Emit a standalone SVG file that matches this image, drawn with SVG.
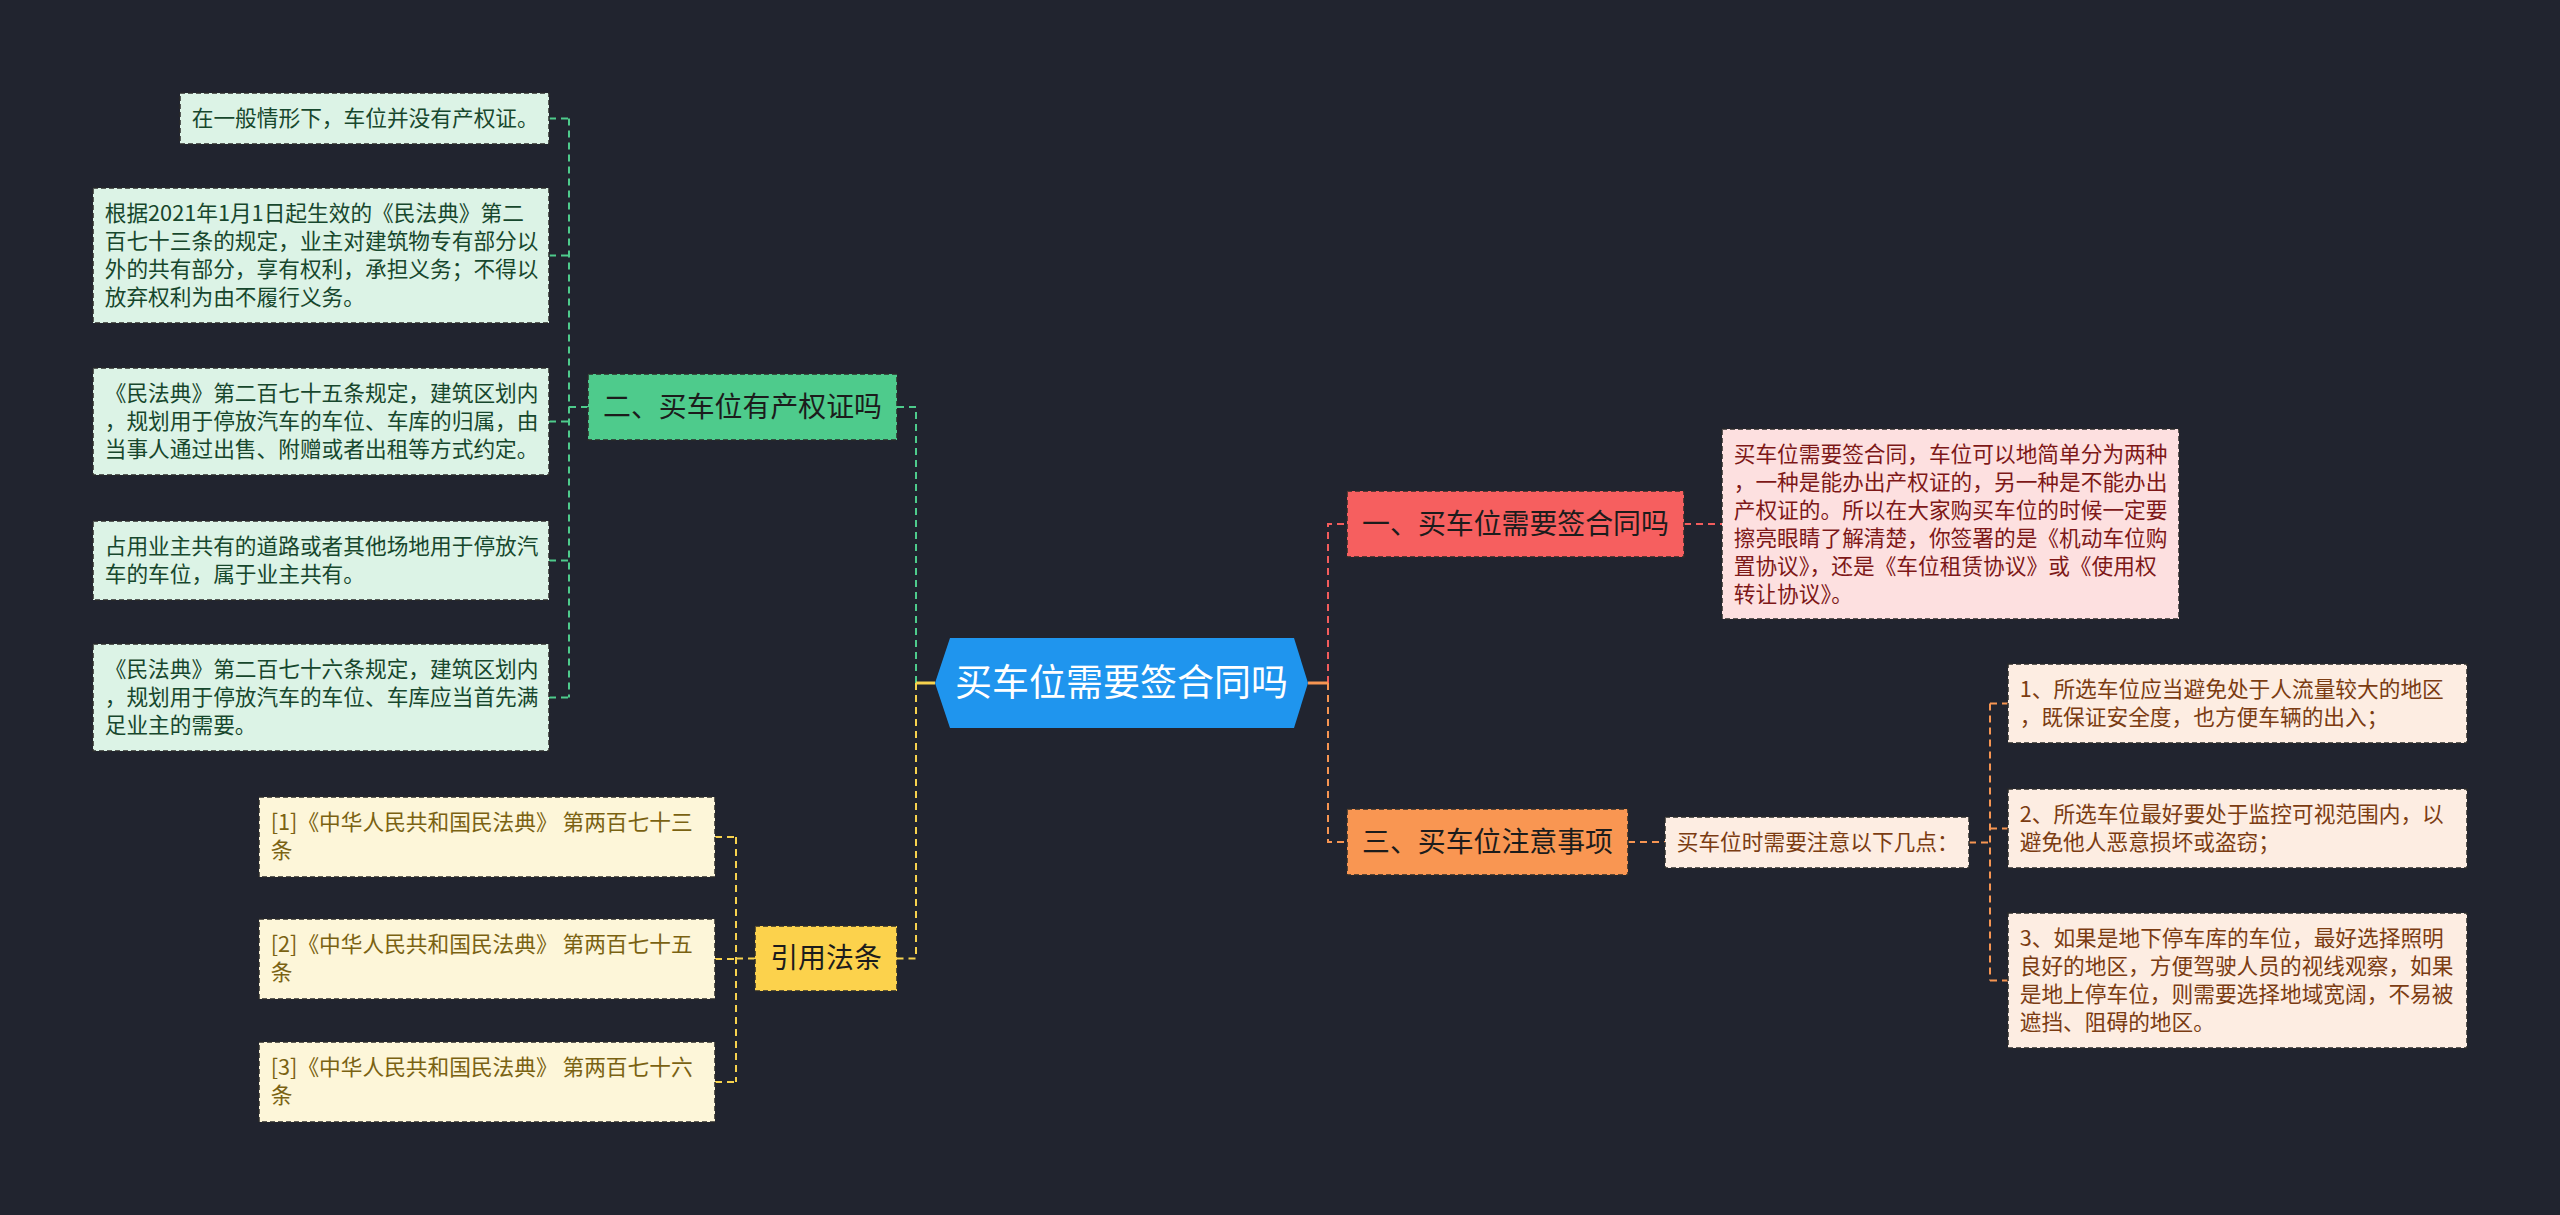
<svg xmlns="http://www.w3.org/2000/svg" width="2560" height="1215" viewBox="0 0 2560 1215">
<style>
text{font-family:"Noto Sans CJK SC","Noto Sans",sans-serif;}
.d{font-size:21.7px;}
.m{font-size:27.9px;fill:#1c1c1c;text-anchor:middle;}
.c{font-size:37px;fill:#ffffff;text-anchor:middle;}
.bx{stroke:#2a2a2a;stroke-width:1.5;stroke-dasharray:5 3;}
.gf{fill:#dcf3e6;} .gt{fill:#17472d;}
.yf{fill:#fdf6d9;} .yt{fill:#7a6212;}
.rf{fill:#fde0e0;} .rt{fill:#7d1818;}
.of{fill:#fdede2;} .ot{fill:#7b3c12;}
.ln{fill:none;stroke-width:2;stroke-dasharray:7 5;}
.sg{stroke:#4ecb8c;} .sy{stroke:#f7d24e;} .sr{stroke:#f25c5c;} .so{stroke:#f79552;}
</style>
<rect width="2560" height="1215" fill="#21242f"/>
<g id="connectors">
<path class="ln sg" d="M897 407 H916 V683"/>
<path class="ln sg" d="M588 407 H569"/>
<path class="ln sg" d="M569 118.5 V697.5 M549 118.5 H569 M549 255.5 H569 M549 421.5 H569 M549 560.5 H569 M549 697.5 H569"/>
<path class="ln sy" d="M916 683 V958.5 H897"/>
<path class="ln sy" d="M755 958.5 H736 M736 837 V1082 M715 837 H736 M715 959 H736 M715 1082 H736"/>
<path fill="none" stroke="#f7d24e" stroke-width="3" d="M916 683 H935"/>
<path class="ln sr" d="M1328 683 V524 H1347"/>
<path class="ln sr" d="M1684 524 H1722"/>
<path class="ln so" d="M1328 683 V842 H1347"/>
<path class="ln so" d="M1628 842 H1665"/>
<path class="ln so" d="M1969 842.5 H1990 M1990 703.5 V980.5 M1990 703.5 H2008 M1990 828.5 H2008 M1990 980.5 H2008"/>
<path fill="none" stroke="#f79552" stroke-width="3" d="M1308 683 H1328"/>
</g>
<g id="center">
<polygon points="935,683 950,638 1294,638 1308,683 1294,728 950,728" fill="#1f95ee"/>
<text class="c" x="1121.5" y="696">买车位需要签合同吗</text>
</g>
<g id="n-left1">
<rect class="bx" x="588" y="374" width="309" height="66" fill="#4ecb8c"/>
<text class="m" x="742.5" y="417">二、买车位有产权证吗</text>
</g>
<g id="g1">
<rect class="bx gf" x="180" y="93" width="369" height="51"/>
<text class="d gt" x="191.7" y="126">在一般情形下，车位并没有产权证。</text>
</g>
<g id="g2">
<rect class="bx gf" x="93" y="188" width="456" height="135"/>
<text class="d gt" x="104.7" y="221"><tspan x="104.7">根据2021年1月1日起生效的《民法典》第二</tspan><tspan x="104.7" dy="27.9">百七十三条的规定，业主对建筑物专有部分以</tspan><tspan x="104.7" dy="27.9">外的共有部分，享有权利，承担义务；不得以</tspan><tspan x="104.7" dy="27.9">放弃权利为由不履行义务。</tspan></text>
</g>
<g id="g3">
<rect class="bx gf" x="93" y="368" width="456" height="107"/>
<text class="d gt" x="104.7" y="401"><tspan x="104.7">《民法典》第二百七十五条规定，建筑区划内</tspan><tspan x="104.7" dy="27.9">，规划用于停放汽车的车位、车库的归属，由</tspan><tspan x="104.7" dy="27.9">当事人通过出售、附赠或者出租等方式约定。</tspan></text>
</g>
<g id="g4">
<rect class="bx gf" x="93" y="521" width="456" height="79"/>
<text class="d gt" x="104.7" y="554"><tspan x="104.7">占用业主共有的道路或者其他场地用于停放汽</tspan><tspan x="104.7" dy="27.9">车的车位，属于业主共有。</tspan></text>
</g>
<g id="g5">
<rect class="bx gf" x="93" y="644" width="456" height="107"/>
<text class="d gt" x="104.7" y="677"><tspan x="104.7">《民法典》第二百七十六条规定，建筑区划内</tspan><tspan x="104.7" dy="27.9">，规划用于停放汽车的车位、车库应当首先满</tspan><tspan x="104.7" dy="27.9">足业主的需要。</tspan></text>
</g>
<g id="n-left2">
<rect class="bx" x="755" y="926" width="142" height="65" fill="#fcd24c"/>
<text class="m" x="826" y="968">引用法条</text>
</g>
<g id="y1">
<rect class="bx yf" x="259" y="797" width="456" height="80"/>
<text class="d yt" x="270.7" y="830"><tspan x="270.7">[1]《中华人民共和国民法典》 第两百七十三</tspan><tspan x="270.7" dy="27.9">条</tspan></text>
</g>
<g id="y2">
<rect class="bx yf" x="259" y="919" width="456" height="80"/>
<text class="d yt" x="270.7" y="952"><tspan x="270.7">[2]《中华人民共和国民法典》 第两百七十五</tspan><tspan x="270.7" dy="27.9">条</tspan></text>
</g>
<g id="y3">
<rect class="bx yf" x="259" y="1042" width="456" height="80"/>
<text class="d yt" x="270.7" y="1075"><tspan x="270.7">[3]《中华人民共和国民法典》 第两百七十六</tspan><tspan x="270.7" dy="27.9">条</tspan></text>
</g>
<g id="n-right1">
<rect class="bx" x="1347" y="491" width="337" height="66" fill="#f65f5f"/>
<text class="m" x="1515.5" y="534">一、买车位需要签合同吗</text>
</g>
<g id="r1">
<rect class="bx rf" x="1722" y="429" width="457" height="190"/>
<text class="d rt" x="1733.7" y="462"><tspan x="1733.7">买车位需要签合同，车位可以地简单分为两种</tspan><tspan x="1733.7" dy="27.9">，一种是能办出产权证的，另一种是不能办出</tspan><tspan x="1733.7" dy="27.9">产权证的。所以在大家购买车位的时候一定要</tspan><tspan x="1733.7" dy="27.9">擦亮眼睛了解清楚，你签署的是《机动车位购</tspan><tspan x="1733.7" dy="27.9">置协议》，还是《车位租赁协议》或《使用权</tspan><tspan x="1733.7" dy="27.9">转让协议》。</tspan></text>
</g>
<g id="n-right2">
<rect class="bx" x="1347" y="809" width="281" height="66" fill="#f99652"/>
<text class="m" x="1487.5" y="852">三、买车位注意事项</text>
</g>
<g id="o0">
<rect class="bx of" x="1665" y="817" width="304" height="51"/>
<text class="d ot" x="1676.7" y="850">买车位时需要注意以下几点：</text>
</g>
<g id="o1">
<rect class="bx of" x="2008" y="664" width="459" height="79"/>
<text class="d ot" x="2019.7" y="697"><tspan x="2019.7">1、所选车位应当避免处于人流量较大的地区</tspan><tspan x="2019.7" dy="27.9">，既保证安全度，也方便车辆的出入；</tspan></text>
</g>
<g id="o2">
<rect class="bx of" x="2008" y="789" width="459" height="79"/>
<text class="d ot" x="2019.7" y="822"><tspan x="2019.7">2、所选车位最好要处于监控可视范围内，以</tspan><tspan x="2019.7" dy="27.9">避免他人恶意损坏或盗窃；</tspan></text>
</g>
<g id="o3">
<rect class="bx of" x="2008" y="913" width="459" height="135"/>
<text class="d ot" x="2019.7" y="946"><tspan x="2019.7">3、如果是地下停车库的车位，最好选择照明</tspan><tspan x="2019.7" dy="27.9">良好的地区，方便驾驶人员的视线观察，如果</tspan><tspan x="2019.7" dy="27.9">是地上停车位，则需要选择地域宽阔，不易被</tspan><tspan x="2019.7" dy="27.9">遮挡、阻碍的地区。</tspan></text>
</g>
</svg>
